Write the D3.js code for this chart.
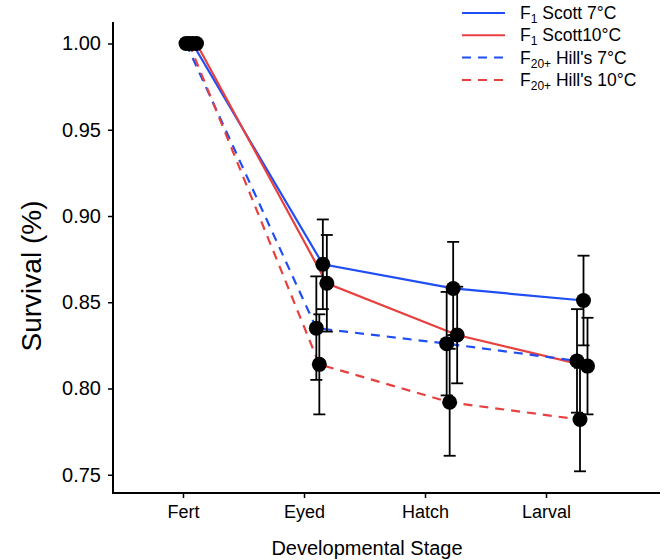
<!DOCTYPE html>
<html>
<head>
<meta charset="utf-8">
<script src="https://cdn.jsdelivr.net/npm/d3@7"></script>
<style>
    body { margin: 0; background: #fff; }
    text { font-family: "Liberation Sans", Arial, Helvetica, sans-serif; fill: #000; }
</style>
</head>
<body>
<svg id="chart" width="665" height="560">
    <g id="lines"></g>
    <g id="errors"></g>
    <g id="points"></g>
    <g id="x_axis"></g>
    <g id="y_axis"></g>
    <g id="legend"></g>
</svg>
<script>
const stages = ["Fert", "Eyed", "Hatch", "Larval"];
const y_ticks = [0.75, 0.80, 0.85, 0.90, 0.95, 1.00];

const scott7 = [1.000, 0.872, 0.858, 0.851];
const scott7_err = [0, 0.026, 0.027, 0.026];
const scott10 = [1.000, 0.861, 0.831, 0.813];
const scott10_err = [0, 0.028, 0.028, 0.028];
const hills7 = [1.000, 0.835, 0.826, 0.816];
const hills7_err = [0, 0.030, 0.030, 0.030];
const hills10 = [1.000, 0.814, 0.792, 0.782];
const hills10_err = [0, 0.029, 0.031, 0.030];

const series_names = ["F1 Scott 7°C", "F1 Scott10°C", "F20+ Hill's 7°C", "F20+ Hill's 10°C"];

function make_series() {
    let vals = [scott7, scott10, hills7, hills10];
    let errs = [scott7_err, scott10_err, hills7_err, hills10_err];
    let colors = ["#1f4ef5", "#e8403e", "#1f4ef5", "#e8403e"];
    let dashes = [null, null, "9,7", "9,7"];
    let dodge = [1.5, 5.5, -5, -2];
    return vals.map((v, k) => ({
        name: series_names[k],
        color: colors[k],
        dash: dashes[k],
        dodge: dodge[k],
        points: v.map((d, i) => ({ stage: i, value: d, err: errs[k][i] }))
    }));
}

function make_scales(margin) {
    return {
        tick: d3.scaleLinear().domain([0, 3]).range([183, 546]),
        x: d3.scaleLinear().domain([0, 3]).range([191, 582]),
        y: d3.scaleLinear().domain([0.74, 1.02]).range([492, 9])
    };
}

function draw_lines(series, scales) {
    d3.select("#lines")
        .selectAll("path")
        .data(series).enter()
        .append("path")
        .attr("d", s => d3.line()
            .x(d => scales.x(d.stage) + s.dodge)
            .y(d => scales.y(d.value))(s.points))
        .attr("fill", "none")
        .attr("stroke", s => s.color)
        .attr("stroke-width", 2.2)
        .attr("stroke-dasharray", s => s.dash);
}

function draw_points(series, scales) {
    let all = series.flatMap(s => s.points.map(p => Object.assign({ dodge: s.dodge }, p)));
    let bars = d3.select("#errors")
        .selectAll("g")
        .data(all.filter(d => d.err > 0)).enter()
        .append("g")
        .attr("stroke", "#000")
        .attr("stroke-width", 1.8);
    bars.append("line")
        .attr("x1", d => scales.x(d.stage) + d.dodge)
        .attr("x2", d => scales.x(d.stage) + d.dodge)
        .attr("y1", d => scales.y(d.value + d.err))
        .attr("y2", d => scales.y(d.value - d.err));
    bars.append("line")
        .attr("x1", d => scales.x(d.stage) + d.dodge - 6)
        .attr("x2", d => scales.x(d.stage) + d.dodge + 6)
        .attr("y1", d => scales.y(d.value + d.err))
        .attr("y2", d => scales.y(d.value + d.err));
    bars.append("line")
        .attr("x1", d => scales.x(d.stage) + d.dodge - 6)
        .attr("x2", d => scales.x(d.stage) + d.dodge + 6)
        .attr("y1", d => scales.y(d.value - d.err))
        .attr("y2", d => scales.y(d.value - d.err));

    d3.select("#points")
        .selectAll("circle")
        .data(all).enter()
        .append("circle")
        .attr("cx", d => scales.x(d.stage) + d.dodge)
        .attr("cy", d => scales.y(d.value))
        .attr("r", 7.5)
        .attr("fill", "#000");
}

function draw_axes(scales, margin) {
    let x_axis = d3.axisBottom(scales.tick)
        .tickValues([0, 1, 2, 3])
        .tickFormat(i => stages[i])
        .tickSize(5)
        .tickSizeOuter(0);
    let gx = d3.select("#x_axis")
        .attr("transform", `translate(0, ${margin.bottom})`)
        .call(x_axis);
    gx.select(".domain").remove();
    gx.selectAll(".tick line").attr("stroke-width", 1.5);
    gx.selectAll(".tick text").attr("font-size", 18).attr("y", 9).attr("dy", "0.9em");
    gx.append("line")
        .attr("x1", margin.left).attr("x2", margin.right)
        .attr("stroke", "#000").attr("stroke-width", 2);
    gx.append("text")
        .attr("x", 367).attr("y", 62)
        .attr("text-anchor", "middle")
        .attr("font-size", 20)
        .text("Developmental Stage");

    let y_axis = d3.axisLeft(scales.y)
        .tickValues(y_ticks)
        .tickFormat(d3.format(".2f"))
        .tickSize(5)
        .tickSizeOuter(0);
    let gy = d3.select("#y_axis")
        .attr("transform", `translate(${margin.left}, 0)`)
        .call(y_axis);
    gy.select(".domain").remove();
    gy.selectAll(".tick line").attr("stroke-width", 1.5);
    gy.selectAll(".tick text").attr("font-size", 20).attr("x", -12);
    gy.append("line")
        .attr("y1", margin.top).attr("y2", margin.bottom + 1)
        .attr("stroke", "#000").attr("stroke-width", 2);
    gy.append("text")
        .attr("transform", `translate(${41 - margin.left}, 276) rotate(-90)`)
        .attr("text-anchor", "middle")
        .attr("font-size", 28)
        .text("Survival (%)");
}

function draw_legend(series) {
    let legend = d3.select("#legend");
    let rows = legend.selectAll("g")
        .data(series).enter()
        .append("g")
        .attr("transform", (_, i) => `translate(462, ${13 + i * 22.3})`);
    rows.append("line")
        .attr("x1", 0).attr("x2", 43)
        .attr("stroke", d => d.color)
        .attr("stroke-width", 2)
        .attr("stroke-dasharray", d => d.dash);
    let txt = rows.append("text")
        .attr("x", 58)
        .attr("y", 6)
        .attr("font-size", 17.5);
    txt.append("tspan").text("F");
    txt.append("tspan")
        .attr("font-size", 12)
        .attr("dy", 4)
        .text(d => d.name.split(" ")[0].slice(1));
    txt.append("tspan")
        .attr("dy", -4)
        .text(d => " " + d.name.split(" ").slice(1).join(" "));
}

let margin = { top: 22, right: 660, bottom: 493, left: 113 };
let series = make_series();
let scales = make_scales(margin);
draw_lines(series, scales);
draw_points(series, scales);
draw_axes(scales, margin);
draw_legend(series);
</script>
</body>
</html>
